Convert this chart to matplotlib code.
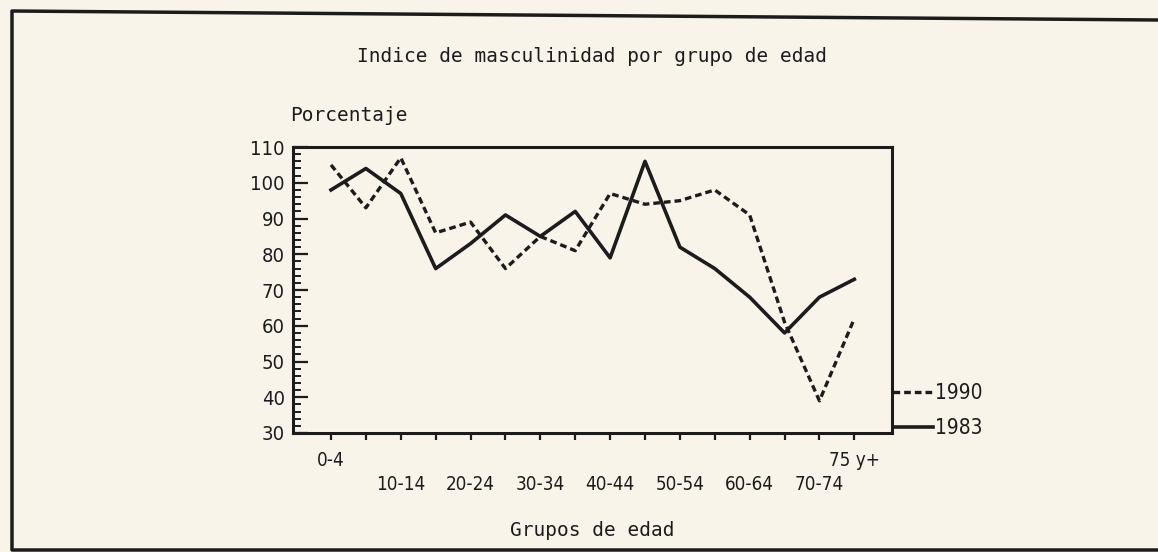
import matplotlib.pyplot as plt
from matplotlib.lines import Line2D

# Grupos de edad (16 grupos quinquenales)
grupos = ['0-4', '5-9', '10-14', '15-19', '20-24', '25-29', '30-34', '35-39',
          '40-44', '45-49', '50-54', '55-59', '60-64', '65-69', '70-74', '75 y+']

# Indice de masculinidad
indice_1990 = [105, 93, 107, 86, 89, 76, 85, 81, 97, 94, 95, 98, 91, 61, 39, 62]
indice_1983 = [98, 104, 97, 76, 83, 91, 85, 92, 79, 106, 82, 76, 68, 58, 68, 73]

# etiquetas visibles en el eje x (alternadas en dos filas)
fila_superior = ['0-4', '75 y+']
fila_inferior = ['10-14', '20-24', '30-34', '40-44', '50-54', '60-64', '70-74']

tinta = '#1c1c1c'
fondo = '#f9f4ea'
mono = 'DejaVu Sans Mono'

plt.rcParams['font.family'] = ['DejaVu Sans']
plt.rcParams['font.stretch'] = 'condensed'
plt.rcParams['text.color'] = tinta

fig = plt.figure(figsize=(11.58, 5.52), dpi=100, facecolor=fondo)
ax = fig.add_axes([0.253, 0.2156, 0.517, 0.518])
ax.set_facecolor(fondo)

x = list(range(len(grupos)))
ax.plot(x, indice_1990, color=tinta, lw=2.4, linestyle=(0, (2.0, 1.2)), label='1990')
ax.plot(x, indice_1983, color=tinta, lw=2.6, label='1983')

ax.set_xlim(-1.09, 16.07)
ax.set_ylim(30, 110)

# eje y: ticks hacia adentro con menores cada 2
ax.set_yticks(range(30, 111, 10))
ax.set_yticks(range(30, 111, 2), minor=True)
ax.tick_params(axis='y', which='major', direction='in', length=11, width=1.6,
               labelsize=14.5, pad=6, colors=tinta)
ax.tick_params(axis='y', which='minor', direction='in', length=6, width=1.4, colors=tinta)

# eje x: un tick por grupo; fila superior en ticks mayores, inferior en menores
ax.xaxis.remove_overlapping_locs = False
ax.set_xticks(x)
ax.set_xticklabels([g if g in fila_superior else '' for g in grupos])
pos_inf = [grupos.index(g) for g in fila_inferior]
ax.set_xticks(pos_inf, minor=True)
ax.set_xticklabels(fila_inferior, minor=True)
ax.tick_params(axis='x', which='major', direction='out', length=5, width=1.6,
               labelsize=13.5, pad=8, colors=tinta)
ax.tick_params(axis='x', which='minor', direction='out', length=0,
               labelsize=13.5, pad=30, colors=tinta)

for s in ax.spines.values():
    s.set_linewidth(2.2)
    s.set_color(tinta)

ax.set_title('Indice de masculinidad por grupo de edad', fontsize=14, pad=61,
             color=tinta, family=mono)
ax.text(-0.005, 1.077, 'Porcentaje', transform=ax.transAxes, fontsize=14,
        ha='left', va='bottom', color=tinta, family=mono)
ax.set_xlabel('Grupos de edad', fontsize=14, labelpad=20, color=tinta, family=mono)

ley = ax.legend(loc='lower left', bbox_to_anchor=(1.003, -0.019), frameon=False,
                handlelength=1.9, handletextpad=0.1, labelspacing=0.75,
                borderpad=0, borderaxespad=0, fontsize=15)
for t in ley.get_texts():
    t.set_color(tinta)

# marco de la pagina escaneada
marco = Line2D([1.0, 12 / 1158, 12 / 1158, 1.0],
               [1 - 20 / 552, 1 - 11 / 552, 1 - 550 / 552, 1 - 550 / 552],
               transform=fig.transFigure, color=tinta, lw=2.5)
fig.add_artist(marco)

fig.savefig('out.png', dpi=100, facecolor=fondo)
